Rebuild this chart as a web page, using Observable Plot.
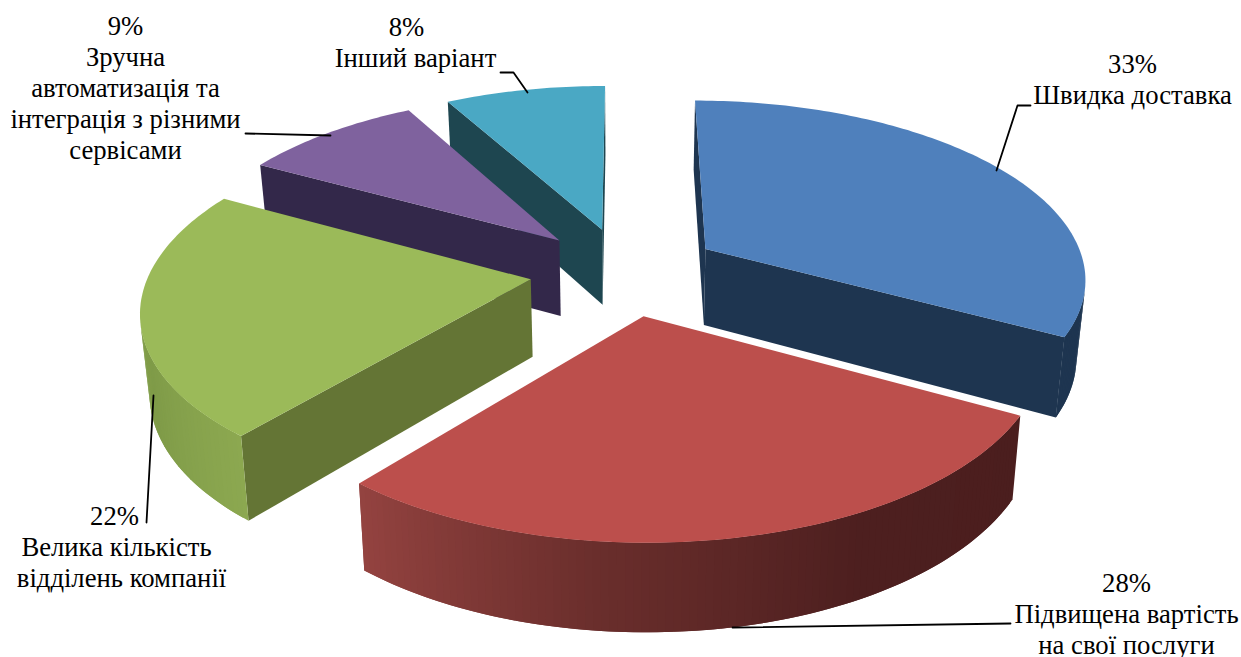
<!DOCTYPE html>
<html>
<head>
<meta charset="utf-8">
<script src="https://cdn.jsdelivr.net/npm/d3@7"></script>
<script src="https://cdn.jsdelivr.net/npm/@observablehq/plot@0.6"></script>
<style>
  html, body { margin: 0; padding: 0; background: #fff; }
  svg { display: block; }
</style>
</head>
<body>
<div id="chart"></div>
<script>
// Survey answers, clockwise from twelve o'clock.
const categories = [
  "Швидка доставка",
  "Підвищена вартість на свої послуги",
  "Велика кількість відділень компанії",
  "Зручна автоматизація та інтеграція з різними сервісами",
  "Інший варіант"
];
const shares = [33, 28, 22, 9, 8];
const labelLines = [
  ["33%", "Швидка доставка"],
  ["28%", "Підвищена вартість", "на свої послуги"],
  ["22%", "Велика кількість", "відділень компанії"],
  ["9%", "Зручна", "автоматизація та", "інтеграція з різними", "сервісами"],
  ["8%", "Інший варіант"]
];

// Face colours of each slice.
const topColors = ["#4f80bc", "#bc4f4c", "#9bba59", "#7f629e", "#4aa8c4"];
const cutColors = ["#1e3550", "#4b1e1e", "#647535", "#33284a", "#1e4650"];
const rimStops = [
  ["#1e3550", "#1e3550"],
  ["#4b1e1e", "#4d1f1f", "#6a2e2c", "#944340"],
  ["#8ca850", "#7f9b48", "#86a24c", "#9bba59"],
  ["#33284a", "#33284a"],
  ["#1e4650", "#1e4650"]
];

// Label anchors (first-line centre) and leader paths, in page pixels.
const labelAnchors = [[1132, 64], [1126, 583], [116, 516], [125, 26], [410, 27]];
const labelOffsets = [
  [0, 0],
  [0, 0, 0],
  [-2, 0, 5],
  [0, 0, 0, 0, 0],
  [-4, 5]
];
const leaderPaths = [
  [[1030, 105], [1017, 105], [996, 170]],
  [[1010, 623], [732, 627]],
  [[146, 522], [153, 395]],
  [[245, 133], [330, 135]],
  [[500, 72], [513, 72], [527, 92]]
];

// Perspective view of the exploded pie.
const view = {cx: 624.5, cy: 270.5, A: 381, B: 177, k: 0.1515, explode: 0.25, H: 77, taper: 0.02};
const rad = d => d * Math.PI / 180;

function project(u, v, w) {
  const z = 1 + view.k * v, q = 1 / (1 + view.taper * w);
  return [view.cx + view.A * u / z * q, view.cy - view.B * v / z * q + view.H * w / z];
}

// Shoelace sum in screen space; negative means the side face looks at the viewer.
function signedArea(pts) {
  return d3.sum(pts, (p, i) => {
    const n = pts[(i + 1) % pts.length];
    return p[0] * n[1] - n[0] * p[1];
  });
}

const cum = d3.cumsum(shares);
const total = cum[cum.length - 1];
const facets = [];
let faceId = 0;

function addFace(points, color) {
  const id = faceId++;
  points.forEach(([x, y]) => facets.push({x, y, id, color}));
}

const wedges = shares.map((s, i) => {
  const a0 = i ? cum[i - 1] / total * 360 : 0;
  const a1 = cum[i] / total * 360;
  const mid = (a0 + a1) / 2;
  const ou = view.explode * Math.sin(rad(mid));
  const ov = view.explode * Math.cos(rad(mid));
  const rimPoint = (a, w) => project(ou + Math.sin(rad(a)), ov + Math.cos(rad(a)), w);
  const apex = w => project(ou, ov, w);
  return {i, a0, a1, rimPoint, apex};
});

// Far slices are painted first, the nearest last.
for (const i of [4, 3, 0, 2, 1]) {
  const {a0, a1, rimPoint, apex} = wedges[i];
  const steps = Math.max(8, Math.round(a1 - a0));
  const angles = d3.range(steps + 1).map(j => a0 + (a1 - a0) * j / steps);

  const cutStart = [apex(0), rimPoint(a0, 0), rimPoint(a0, 1), apex(1)];
  const cutEnd = [rimPoint(a1, 0), apex(0), apex(1), rimPoint(a1, 1)];
  if (signedArea(cutStart) < 0) addFace(cutStart, cutColors[i]);
  if (signedArea(cutEnd) < 0) addFace(cutEnd, cutColors[i]);

  // Rim strips run on under the next one, which hides the seams between them.
  const shade = d3.piecewise(d3.interpolateRgb, rimStops[i]);
  for (let j = 0; j < steps; j++) {
    const next = angles[Math.min(j + 2, steps)];
    const strip = [rimPoint(angles[j], 0), rimPoint(next, 0), rimPoint(next, 1), rimPoint(angles[j], 1)];
    if (signedArea(strip) < 0) addFace(strip, d3.color(shade((j + 0.5) / steps)).formatHex());
  }

  addFace([apex(0), ...angles.map(a => rimPoint(a, 0))], topColors[i]);
}

const leaders = leaderPaths.flatMap((path, i) => path.map(([x, y]) => ({x, y, i})));
const labels = labelLines.flatMap((lines, i) =>
  lines.map((text, j) => ({
    text,
    x: labelAnchors[i][0] + labelOffsets[i][j],
    y: labelAnchors[i][1] + j * 31
  }))
);

const chart = Plot.plot({
  width: 1241,
  height: 657,
  margin: 0,
  x: {domain: [0, 1241], range: [0, 1241], axis: null},
  y: {domain: [0, 657], range: [0, 657], axis: null},
  color: {type: "identity"},
  style: {background: "#fff"},
  marks: [
    Plot.line(facets, {x: "x", y: "y", z: "id", fill: "color", stroke: "none", curve: "linear"}),
    Plot.line(leaders, {x: "x", y: "y", z: "i", stroke: "#000", strokeWidth: 1.8, curve: "linear"}),
    Plot.text(labels, {
      x: "x", y: "y", text: "text",
      fontFamily: "Liberation Serif",
      fontSize: 26.7,
      fill: "#000",
      textAnchor: "middle",
      lineAnchor: "middle"
    })
  ]
});
document.getElementById("chart").append(chart);
</script>
</body>
</html>
